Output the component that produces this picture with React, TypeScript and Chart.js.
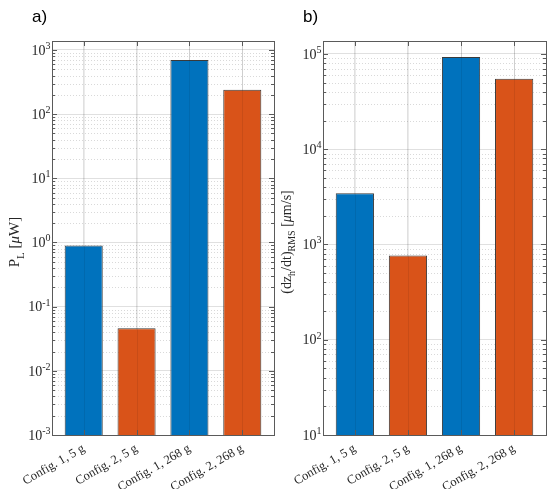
import React, { useEffect, useRef } from "react";
import { Chart, registerables } from "chart.js";

Chart.register(...registerables);

const categories = ["Config. 1, 5 g", "Config. 2, 5 g", "Config. 1, 268 g", "Config. 2, 268 g"];
const powerValues = [0.9, 0.046, 700, 240];
const velocityValues = [3450, 765, 93000, 55000];
const barColors = ["#0072BD", "#D95319", "#0072BD", "#D95319"];
const powerExponents = [-3, -2, -1, 0, 1, 2, 3];
const velocityExponents = [1, 2, 3, 4, 5];

const SERIF = "'Liberation Serif', 'Times New Roman', serif";
const INK = "#262626";
const BOX = "#5a5a5a";

type Part = { text: string; sub?: boolean; sup?: boolean; italic?: boolean };

const powerTitle: Part[] = [
  { text: "P" },
  { text: "L", sub: true },
  { text: " [" },
  { text: "\u03bc", italic: true },
  { text: "W]" },
];
const velocityTitle: Part[] = [
  { text: "(dz" },
  { text: "h", sub: true },
  { text: "/dt)" },
  { text: "RMS", sub: true },
  { text: " [" },
  { text: "\u03bc", italic: true },
  { text: "m/s]" },
];

function drawRich(
  ctx: CanvasRenderingContext2D,
  parts: Part[],
  x: number,
  y: number,
  size: number,
  align: "center" | "right",
  rotate: boolean
) {
  ctx.save();
  ctx.translate(x, y);
  if (rotate) ctx.rotate(-Math.PI / 2);
  const fontFor = (p: Part) =>
    `${p.italic ? "italic " : ""}${p.sub || p.sup ? Math.round(size * 0.72) : size}px ${SERIF}`;
  let total = 0;
  const widths = parts.map((p) => {
    ctx.font = fontFor(p);
    const w = ctx.measureText(p.text).width;
    total += w;
    return w;
  });
  let cx = align === "center" ? -total / 2 : -total;
  ctx.textAlign = "left";
  ctx.textBaseline = "alphabetic";
  ctx.fillStyle = INK;
  parts.forEach((p, i) => {
    ctx.font = fontFor(p);
    const dy = p.sub ? size * 0.32 : p.sup ? -size * 0.42 : 0;
    ctx.fillText(p.text, cx, size * 0.34 + dy);
    cx += widths[i];
  });
  ctx.restore();
}

interface PanelProps {
  values: number[];
  exponents: number[];
  yMax: number;
  title: Part[];
  titleSize: number;
  panelLabel: string;
  axisWidth: number;
  padRight: number;
  titleX: number;
}

const Panel: React.FC<PanelProps> = ({ values, exponents, yMax, title, titleSize, panelLabel, axisWidth, padRight, titleX }) => {
  const canvasRef = useRef<HTMLCanvasElement>(null);

  useEffect(() => {
    if (!canvasRef.current) return;
    const yMin = Math.pow(10, exponents[0]);
    const yTicks: { value: number; major: boolean }[] = [];
    for (let e = exponents[0]; e <= exponents[exponents.length - 1]; e++) {
      for (let m = 1; m <= 9; m++) {
        const v = m * Math.pow(10, e);
        if (v >= yMin * 0.999 && v <= yMax) yTicks.push({ value: v, major: m === 1 });
      }
    }

    const matlabAxes = {
      id: "matlabAxes",
      beforeDatasetsDraw(chart: any) {
        const { ctx, chartArea: a } = chart;
        const ys = chart.scales.y;
        ctx.save();
        ctx.strokeStyle = "rgba(0,0,0,0.15)";
        ctx.lineWidth = 1;
        ctx.setLineDash([1, 2]);
        yTicks.forEach((t) => {
          if (t.major) return;
          const py = Math.round(ys.getPixelForValue(t.value)) + 0.5;
          ctx.beginPath();
          ctx.moveTo(a.left, py);
          ctx.lineTo(a.right, py);
          ctx.stroke();
        });
        ctx.restore();
      },
      afterDatasetsDraw(chart: any) {
        const { ctx, chartArea: a } = chart;
        const ys = chart.scales.y;
        const xs = chart.scales.x;
        ctx.save();
        // grid on top of the bars, like the axes layer in the source
        ctx.strokeStyle = "rgba(0,0,0,0.08)";
        ctx.lineWidth = 1;
        categories.forEach((_, i) => {
          const px = Math.round(xs.getPixelForValue(i + 1)) + 0.5;
          ctx.beginPath();
          ctx.moveTo(px, a.top);
          ctx.lineTo(px, a.bottom);
          ctx.stroke();
        });
        // inward ticks
        ctx.strokeStyle = BOX;
        yTicks.forEach((t) => {
          const py = Math.round(ys.getPixelForValue(t.value)) + 0.5;
          const len = t.major ? 5 : 3;
          ctx.beginPath();
          ctx.moveTo(a.left, py);
          ctx.lineTo(a.left + len, py);
          ctx.moveTo(a.right, py);
          ctx.lineTo(a.right - len, py);
          ctx.stroke();
        });
        categories.forEach((_, i) => {
          const px = Math.round(xs.getPixelForValue(i + 1)) + 0.5;
          ctx.beginPath();
          ctx.moveTo(px, a.top);
          ctx.lineTo(px, a.top + 5);
          ctx.moveTo(px, a.bottom);
          ctx.lineTo(px, a.bottom - 5);
          ctx.stroke();
        });
        // box
        ctx.strokeRect(Math.round(a.left) + 0.5, Math.round(a.top) + 0.5, Math.round(a.right - a.left), Math.round(a.bottom - a.top));
        ctx.restore();

        // y tick labels 10^n
        exponents.forEach((e) => {
          const py = ys.getPixelForValue(Math.pow(10, e));
          drawRich(ctx, [{ text: "10" }, { text: String(e), sup: true }], a.left - 1.5, py, 14, "right", false);
        });
        // axis title
        drawRich(ctx, title, titleX, (a.top + a.bottom) / 2 + 4, titleSize, "center", true);
        // panel label
        ctx.save();
        ctx.font = "17px 'Liberation Sans', Arial, sans-serif";
        ctx.fillStyle = "#000";
        ctx.textAlign = "left";
        ctx.textBaseline = "middle";
        ctx.fillText(panelLabel, axisWidth - 20, 17);
        ctx.restore();
      },
    };

    const chart = new Chart(canvasRef.current, {
      type: "bar",
      data: {
        datasets: [
          {
            data: values.map((v, i) => ({ x: i + 1, y: v })),
            backgroundColor: barColors,
            borderColor: "#3a3a3a",
            borderWidth: 1,
            barPercentage: 0.72,
            categoryPercentage: 1,
          },
        ],
      },
      options: {
        responsive: false,
        animation: false,
        layout: { padding: { top: 41, left: 0, right: padRight, bottom: 0 } },
        plugins: { legend: { display: false }, tooltip: { enabled: false } },
        scales: {
          x: {
            type: "linear",
            min: 0.4,
            max: 4.6,
            offset: false,
            afterBuildTicks: (axis: any) => {
              axis.ticks = categories.map((_, i) => ({ value: i + 1 }));
            },
            afterFit: (axis: any) => {
              axis.height = 54;
            },
            grid: { color: "rgba(0,0,0,0.12)", drawTicks: false, offset: false },
            border: { display: false },
            ticks: {
              autoSkip: false,
              minRotation: 30,
              maxRotation: 30,
              padding: 6,
              color: INK,
              font: { family: SERIF, size: 12.5 },
              callback: (v: any) => categories[Number(v) - 1] ?? "",
            },
          },
          y: {
            type: "logarithmic",
            min: Math.pow(10, exponents[0]),
            max: yMax,
            afterBuildTicks: (axis: any) => {
              axis.ticks = yTicks.map((t) => ({ ...t }));
            },
            afterFit: (axis: any) => {
              axis.width = axisWidth;
            },
            grid: {
              color: (c: any) => (c.tick && c.tick.major ? "rgba(0,0,0,0.12)" : "rgba(0,0,0,0)"),
              drawTicks: false,
            },
            border: { display: false },
            ticks: { display: false, autoSkip: false },
          },
        },
      },
      plugins: [matlabAxes],
    });
    return () => chart.destroy();
  }, [values, exponents, yMax, title, titleSize, panelLabel, axisWidth, padRight, titleX]);

  return <canvas ref={canvasRef} width={275} height={489} style={{ display: "block" }} />;
};

export default function App() {
  return (
    <div style={{ position: "fixed", left: 0, top: 0, width: 550, height: 489, display: "flex", background: "#fff" }}>
      <Panel
        values={powerValues}
        exponents={powerExponents}
        yMax={Math.pow(10, 3.14)}
        title={powerTitle}
        titleSize={15}
        panelLabel="a)"
        axisWidth={52}
        padRight={1}
        titleX={14}
      />
      <Panel
        values={velocityValues}
        exponents={velocityExponents}
        yMax={Math.pow(10, 5.136)}
        title={velocityTitle}
        titleSize={14}
        panelLabel="b)"
        axisWidth={48}
        padRight={4}
        titleX={11}
      />
    </div>
  );
}
